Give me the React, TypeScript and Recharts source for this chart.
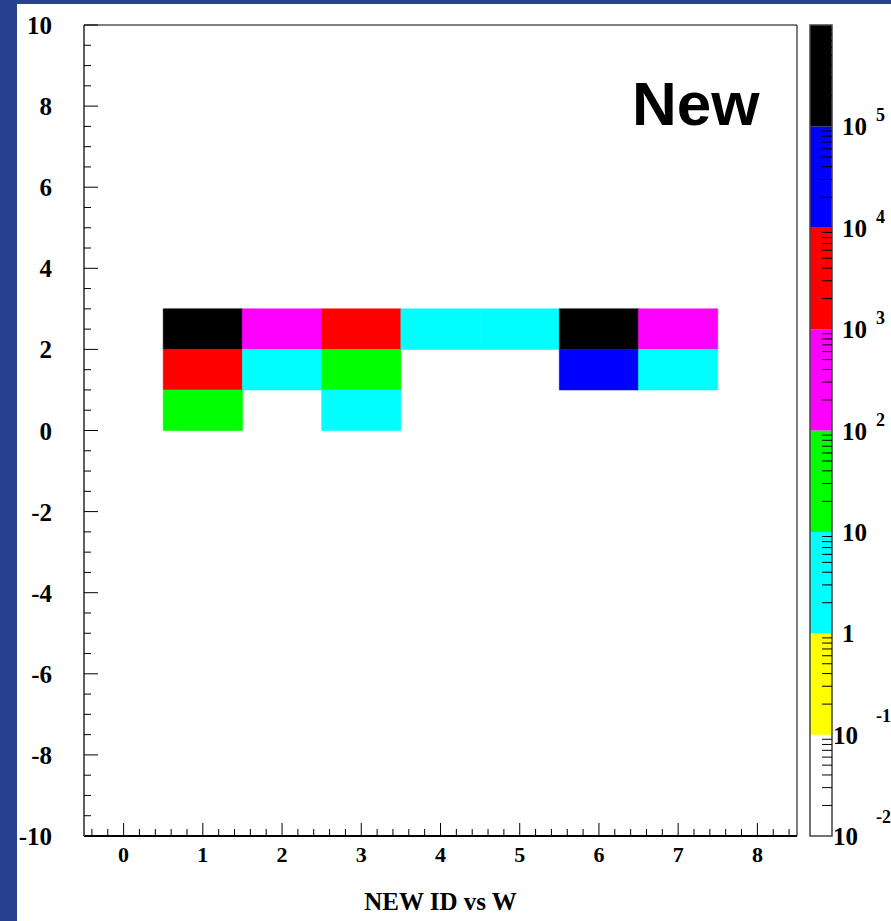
import React from 'react';
import { ComposedChart, XAxis, YAxis, ReferenceArea, Label } from 'recharts';

// filled bins of the 2D histogram: x bin centre, y bin lower edge, entries
const binX = [1, 1, 1, 2, 2, 3, 3, 3, 4, 5, 6, 6, 7, 7];
const binY = [2, 1, 0, 2, 1, 2, 1, 0, 2, 2, 2, 1, 2, 1];
const binCounts = [180000, 4000, 40, 400, 5, 3000, 50, 5, 4, 4, 160000, 30000, 300, 6];

// palette: one colour per decade, from 10^-2 up to 10^6
const decadeExponents = [-2, -1, 0, 1, 2, 3, 4, 5];
const decadeColors = ['#ffffff', '#ffff00', '#00ffff', '#00ff00', '#ff00ff', '#ff0000', '#0000ff', '#000000'];

const xMajor = [0, 1, 2, 3, 4, 5, 6, 7, 8];
const yMajor = [-10, -8, -6, -4, -2, 0, 2, 4, 6, 8, 10];

// minor tick grids (ROOT style)
const xTicks = Array.from({ length: 45 }, (_, i) => Math.round((-0.4 + i * 0.2) * 10) / 10);
const yTicks = Array.from({ length: 41 }, (_, i) => -10 + i * 0.5);
const zTicks: number[] = [];
decadeExponents.forEach((e) => {
  for (let m = 1; m <= 9; m++) zTicks.push(Number((m * Math.pow(10, e)).toPrecision(3)));
});
zTicks.push(1e6);

const W = 891;
const H = 921;
const serif = '"Liberation Serif", "Times New Roman", serif';

const colorFor = (v: number) => decadeColors[Math.floor(Math.log10(v)) - decadeExponents[0]];

const XTick = (props: any) => {
  const { x, y, payload } = props;
  const v = payload.value;
  const major = xMajor.includes(v);
  return (
    <g>
      <line x1={x} x2={x} y1={y} y2={y - (major ? 13 : 7)} stroke="#000" strokeWidth={1} />
      {major && (
        <text x={x} y={y + 26} textAnchor="middle" fontFamily={serif} fontWeight="bold" fontSize={22} fill="#000">
          {v}
        </text>
      )}
    </g>
  );
};

const YTick = (props: any) => {
  const { x, y, payload } = props;
  const v = payload.value;
  const major = yMajor.includes(v);
  return (
    <g>
      <line x1={x} x2={x + (major ? 14 : 7)} y1={y} y2={y} stroke="#000" strokeWidth={1} />
      {major && (
        <text x={x - 32} y={y + 9} textAnchor="end" fontFamily={serif} fontWeight="bold" fontSize={25} fill="#000">
          {v}
        </text>
      )}
    </g>
  );
};

const ZTick = (props: any) => {
  const { x, y, payload } = props;
  const v = payload.value;
  const lg = Math.log10(v);
  const e = Math.round(lg);
  const major = Math.abs(lg - e) < 1e-6;
  if (!major) {
    return <line x1={x - 10} x2={x} y1={y} y2={y} stroke="#000" strokeWidth={1} />;
  }
  if (e >= 6) return <g />;
  const base = e === 0 ? '1' : '10';
  const neg = e < 0;
  return (
    <g fontFamily={serif} fontWeight="bold" fill="#000">
      <text x={neg ? x + 1 : x + 10} y={y + 9} fontSize={25}>
        {base}
      </text>
      {(e >= 2 || neg) && (
        <text x={x + 44} y={neg ? y - 13 : y - 5} fontSize={18}>
          {e}
        </text>
      )}
    </g>
  );
};

const TitleLabel = (props: any) => {
  const { x, y, width } = props.viewBox;
  return (
    <text x={x + width / 2} y={y + 74} textAnchor="middle" fontFamily={serif} fontWeight="bold" fontSize={25} fill="#000">
      NEW ID vs W
    </text>
  );
};

export default function App() {
  return (
    <div style={{ position: 'absolute', left: 0, top: 0, width: W, height: H, background: '#26418f', overflow: 'hidden' }}>
      <div style={{ position: 'absolute', left: 17, top: 4, right: 0, bottom: 0, background: '#fff' }} />
      <div style={{ position: 'absolute', left: 0, top: 0 }}>
        <ComposedChart width={W} height={H} margin={{ top: 25, right: 94, bottom: 55, left: 24 }}>
          <XAxis
            type="number"
            dataKey="x"
            domain={[-0.5, 8.5]}
            ticks={xTicks}
            interval={0}
            allowDataOverflow
            height={30}
            tickSize={0}
            tickMargin={0}
            tickLine={false}
            tick={<XTick />}
            axisLine={{ stroke: '#000', strokeWidth: 2 }}
          >
            <Label content={<TitleLabel />} />
          </XAxis>
          <YAxis
            type="number"
            dataKey="y"
            domain={[-10, 10]}
            ticks={yTicks}
            interval={0}
            allowDataOverflow
            width={60}
            tickSize={0}
            tickMargin={0}
            tickLine={false}
            tick={<YTick />}
            axisLine={{ stroke: '#555', strokeWidth: 1.5 }}
          />
          {binX.map((bx, i) => (
            <ReferenceArea
              key={i}
              x1={bx - 0.5}
              x2={bx + 0.5}
              y1={binY[i]}
              y2={binY[i] + 1}
              fill={colorFor(binCounts[i])}
              fillOpacity={1}
              stroke={colorFor(binCounts[i])}
              strokeWidth={0.6}
            />
          ))}
          <ReferenceArea x1={-0.5} x2={8.5} y1={-10} y2={10} fill="none" stroke="#000" strokeWidth={1} />
          <text x={632} y={125} fontFamily='"Liberation Sans", Arial, sans-serif' fontWeight="bold" fontSize={62} fill="#000">
            New
          </text>
        </ComposedChart>
      </div>
      <div style={{ position: 'absolute', left: 0, top: 0 }}>
        <ComposedChart width={W} height={H} margin={{ top: 25, right: 0, bottom: 85, left: 810 }}>
          <XAxis type="number" dataKey="x" domain={[0, 1]} hide allowDataOverflow />
          <YAxis
            type="number"
            dataKey="z"
            orientation="right"
            scale="log"
            domain={[0.01, 1e6]}
            ticks={zTicks}
            interval={0}
            allowDataOverflow
            width={59}
            tickSize={0}
            tickMargin={0}
            tickLine={false}
            axisLine={false}
            tick={<ZTick />}
          />
          {decadeExponents.map((e, i) => (
            <ReferenceArea
              key={e}
              x1={0}
              x2={1}
              y1={Math.pow(10, e)}
              y2={Math.pow(10, e + 1)}
              fill={decadeColors[i]}
              fillOpacity={1}
              stroke="none"
            />
          ))}
          <ReferenceArea x1={0} x2={1} y1={0.01} y2={1e6} fill="none" stroke="#444" strokeWidth={1.5} />
        </ComposedChart>
      </div>
    </div>
  );
}
